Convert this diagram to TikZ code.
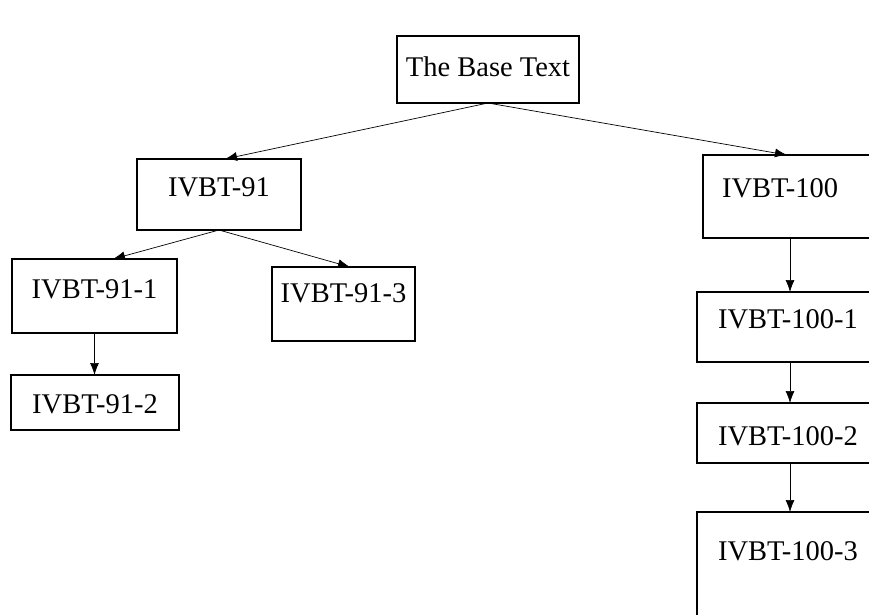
\documentclass[tikz,border=0pt]{standalone}
\usepackage{fontspec}
\setmainfont{Liberation Serif}
\usetikzlibrary{arrows.meta,calc}
\begin{document}
\begin{tikzpicture}[x=1pt,y=-1pt,
  box/.style={draw=black, line width=2.3pt, anchor=north west, inner xsep=0pt, inner ysep=0pt, outer sep=0pt, font=\fontsize{28.5}{30}\selectfont},
  rbox/.style={box, align=left, text width=180pt, inner xsep=19pt},
  conn/.style={-{Latex[length=12pt,width=9pt]}, line width=0.7pt}]
\useasboundingbox (0,0) rectangle (869,614);
\clip (0,0) rectangle (869,614);
\node[box, minimum width=182pt, text height=40pt, text depth=27pt] (base) at (397,36) {The Base Text};
\node[box, minimum width=164pt, text height=37pt, text depth=34pt] (i91) at (137,159) {IVBT-91};
\node[rbox, text height=42pt, text depth=41pt] (i100) at (703,155) {IVBT-100};
\node[box, minimum width=165pt, text height=39pt, text depth=35pt] (i911) at (12,259) {IVBT-91-1};
\node[box, minimum width=143pt, text height=35pt, text depth=39pt] (i913) at (272,267) {IVBT-91-3};
\node[box, minimum width=168pt, text height=38pt, text depth=17pt] (i912) at (11,375) {IVBT-91-2};
\node[rbox, inner xsep=21pt, text height=36pt, text depth=34pt] (i1001) at (697,292) {IVBT-100-1};
\node[rbox, inner xsep=21pt, text height=42pt, text depth=18pt] (i1002) at (697,403) {IVBT-100-2};
\node[rbox, inner xsep=21pt, text height=48pt, text depth=72pt] (i1003) at (697,512) {IVBT-100-3};
\draw[conn] (base.south) -- ($(i91.north)+(6,0)$);
\draw[conn] (base.south) -- ($(i100.north west)+(84,0)$);
\draw[conn] (i91.south) -- ($(i911.north west)+(101,0)$);
\draw[conn] (i91.south) -- ($(i913.north west)+(78,0)$);
\draw[conn] (i911.south) -- (i911.south |- i912.north);
\draw[conn] ($(i100.south west)+(87,0)$) -- ($(i1001.north west)+(93,0)$);
\draw[conn] ($(i1001.south west)+(93,0)$) -- ($(i1002.north west)+(93,0)$);
\draw[conn] ($(i1002.south west)+(93,0)$) -- ($(i1003.north west)+(93,0)$);
\end{tikzpicture}
\end{document}
